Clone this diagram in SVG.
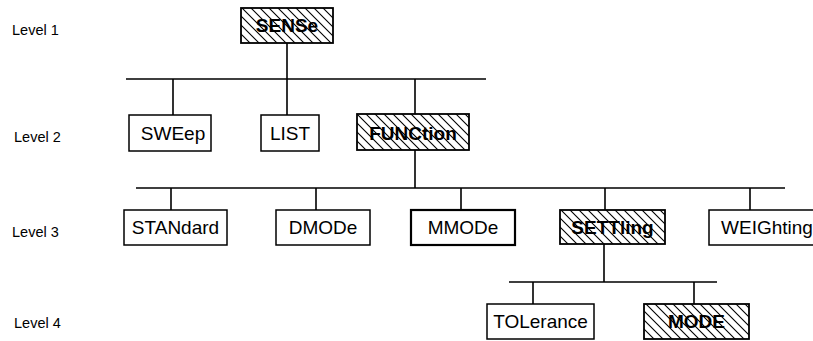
<svg xmlns="http://www.w3.org/2000/svg" width="813" height="341" viewBox="0 0 813 341">
<defs>
<pattern id="hatch" patternUnits="userSpaceOnUse" width="9" height="9">
<path d="M-2,-2 L11,11 M-2,7 L2,11 M7,-2 L11,2" stroke="#000" stroke-width="1.1"/>
</pattern>
</defs>
<style>
.box{fill:#fff;stroke:#000;stroke-width:1.5}
.hbox{fill:url(#hatch);stroke:#000;stroke-width:1.8}
.t{font-family:"Liberation Sans",Arial,sans-serif;font-size:19px;text-anchor:middle;fill:#000}
.b{font-weight:bold}
.lv{font-family:"Liberation Sans",Arial,sans-serif;font-size:14.5px;fill:#000}
.ln{stroke:#000;stroke-width:1.6;fill:none}
</style>
<rect width="813" height="341" fill="#fff"/>
<g id="levels">
<text class="lv" x="12" y="35">Level 1</text>
<text class="lv" x="14" y="142">Level 2</text>
<text class="lv" x="12" y="237">Level 3</text>
<text class="lv" x="14" y="328">Level 4</text>
</g>
<g id="connectors">
<path class="ln" d="M287,43 V79 M126,79 H486 M173,79 V115 M287,79 V115 M415,79 V114"/>
<path class="ln" d="M415,150 V188 M136,188 H785 M171,188 V210 M316,188 V210 M461,188 V210 M605,188 V210 M750,188 V210"/>
<path class="ln" d="M604,244 V282 M509,282 H717 M533,282 V304 M694,282 V304"/>
</g>
<g id="SENSe"><rect class="hbox" x="241" y="8" width="92" height="35"/><text class="t b" x="287" y="32">SENSe</text></g>
<g id="SWEep"><rect class="box" x="129" y="115" width="82" height="36"/><text class="t" x="173" y="140">SWEep</text></g>
<g id="LIST"><rect class="box" x="261" y="115" width="58" height="36"/><text class="t" x="290" y="140">LIST</text></g>
<g id="FUNCtion"><rect class="hbox" x="357" y="114" width="112" height="36"/><text class="t b" x="413" y="140">FUNCtion</text></g>
<g id="STANdard"><rect class="box" x="124" y="210" width="103" height="35"/><text class="t" x="175.5" y="234">STANdard</text></g>
<g id="DMODe"><rect class="box" x="276" y="210" width="94" height="35"/><text class="t" x="323" y="234">DMODe</text></g>
<g id="MMODe"><rect class="box" x="411" y="210" width="104" height="35" style="stroke-width:2.2"/><text class="t" x="463" y="234">MMODe</text></g>
<g id="SETTling"><rect class="hbox" x="560" y="210" width="105" height="34"/><text class="t b" x="612.5" y="234">SETTling</text></g>
<g id="WEIGhting"><rect class="box" x="709" y="210" width="110" height="35"/><text class="t" x="767" y="234">WEIGhting</text></g>
<g id="TOLerance"><rect class="box" x="487" y="304" width="107" height="35"/><text class="t" x="540.5" y="328">TOLerance</text></g>
<g id="MODE"><rect class="hbox" x="644" y="304" width="105" height="35"/><text class="t b" x="696.5" y="328">MODE</text></g>
</svg>
